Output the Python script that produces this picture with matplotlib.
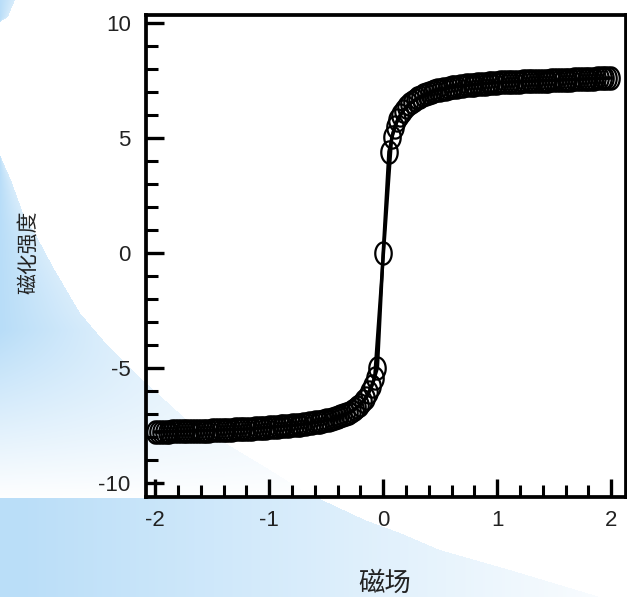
import numpy as np
import matplotlib
matplotlib.use('Agg')
import matplotlib.pyplot as plt
from matplotlib.path import Path
from matplotlib.ticker import MultipleLocator, FixedLocator

# ---------------- data ----------------
# sweep 1
field_h = [-2.00, -1.95, -1.90, -1.85, -1.80, -1.75, -1.70, -1.65, -1.60, -1.55,
           -1.50, -1.45, -1.40, -1.35, -1.30, -1.25, -1.20, -1.15, -1.10, -1.05,
           -1.00, -0.95, -0.90, -0.85, -0.80, -0.75, -0.70, -0.65, -0.60, -0.55,
           -0.50, -0.45, -0.40, -0.35, -0.30, -0.25, -0.20, -0.15, -0.10, -0.05,
           0.00,
           0.05, 0.10, 0.15, 0.20, 0.25, 0.30, 0.35, 0.40, 0.45, 0.50,
           0.55, 0.60, 0.65, 0.70, 0.75, 0.80, 0.85, 0.90, 0.95, 1.00,
           1.05, 1.10, 1.15, 1.20, 1.25, 1.30, 1.35, 1.40, 1.45, 1.50,
           1.55, 1.60, 1.65, 1.70, 1.75, 1.80, 1.85, 1.90, 1.95, 2.00]
magnetization = [-7.78, -7.77, -7.77, -7.76, -7.75, -7.75, -7.74, -7.73, -7.72, -7.72,
                 -7.71, -7.70, -7.69, -7.68, -7.67, -7.66, -7.65, -7.64, -7.62, -7.60,
                 -7.58, -7.56, -7.54, -7.52, -7.50, -7.47, -7.44, -7.41, -7.37, -7.33,
                 -7.28, -7.22, -7.15, -7.05, -6.95, -6.80, -6.60, -6.30, -5.80, -5.00,
                 0.00,
                 4.40, 5.50, 6.00, 6.35, 6.55, 6.72, 6.85, 6.95, 7.03, 7.10,
                 7.15, 7.20, 7.24, 7.27, 7.30, 7.32, 7.35, 7.37, 7.39, 7.41,
                 7.42, 7.43, 7.44, 7.45, 7.46, 7.47, 7.48, 7.49, 7.50, 7.51,
                 7.52, 7.53, 7.54, 7.55, 7.56, 7.57, 7.58, 7.59, 7.60, 7.61]

# sweep 2 (interleaved measurement points)
field_h_2 = [-1.975, -1.925, -1.875, -1.825, -1.775, -1.725, -1.675, -1.625, -1.575, -1.525,
             -1.475, -1.425, -1.375, -1.325, -1.275, -1.225, -1.175, -1.125, -1.075, -1.025,
             -0.975, -0.925, -0.875, -0.825, -0.775, -0.725, -0.675, -0.625, -0.575, -0.525,
             -0.475, -0.425, -0.375, -0.325, -0.275, -0.225, -0.175, -0.125, -0.075,
             0.075, 0.125, 0.175, 0.225, 0.275, 0.325, 0.375, 0.425, 0.475, 0.525,
             0.575, 0.625, 0.675, 0.725, 0.775, 0.825, 0.875, 0.925, 0.975, 1.025,
             1.075, 1.125, 1.175, 1.225, 1.275, 1.325, 1.375, 1.425, 1.475, 1.525,
             1.575, 1.625, 1.675, 1.725, 1.775, 1.825, 1.875, 1.925, 1.975]
magnetization_2 = [-7.79, -7.78, -7.77, -7.76, -7.76, -7.75, -7.74, -7.73, -7.73, -7.72,
                   -7.71, -7.70, -7.69, -7.68, -7.67, -7.66, -7.65, -7.63, -7.61, -7.59,
                   -7.57, -7.55, -7.53, -7.51, -7.49, -7.46, -7.43, -7.39, -7.35, -7.31,
                   -7.25, -7.19, -7.10, -7.00, -6.88, -6.70, -6.45, -6.05, -5.45,
                   5.05, 5.78, 6.18, 6.46, 6.64, 6.79, 6.90, 6.99, 7.07, 7.13,
                   7.18, 7.22, 7.26, 7.29, 7.31, 7.34, 7.36, 7.38, 7.40, 7.42,
                   7.43, 7.44, 7.45, 7.46, 7.47, 7.48, 7.49, 7.50, 7.51, 7.52,
                   7.53, 7.54, 7.55, 7.56, 7.57, 7.58, 7.59, 7.60, 7.61]

x_ticks = [-2, -1, 0, 1, 2]
x_tick_labels = ['-2', '-1', '0', '1', '2']
y_ticks = [-10, -5, 0, 5, 10]
y_tick_labels = ['-10', '-5', '0', '5', '10']
x_label = '磁场'
y_label = '磁化强度'

# ---------------- figure ----------------
W, H = 627, 597
fig = plt.figure(figsize=(W / 100, H / 100), dpi=100)
fig.patch.set_facecolor('white')

# background (slide-like blue gradient with white arc)
yy, xx = np.mgrid[0:H, 0:W] + 0.5
by = [0, 17, 22, 60, 100, 140, 155, 180, 213, 237, 267, 313, 340, 382, 420, 470, 493, 520, 533, 550, 570, 597]
bx = [15, 8, 0, -5, -8, -3, 0, 11, 23, 37, 53, 80, 103, 145, 187, 270, 307, 365, 400, 440, 510, 600]
xb = np.interp(yy, by, bx)
inside = xx < xb
band = yy >= 498
f_band = np.clip(xx / 660.0, 0.03, 1.0)
f_v = np.clip((yy - 330) / 170.0, 0, 1)
f_h = 0.45 * xx / np.maximum(xb, 1)
f_up = 1 - (1 - f_v) * (1 - f_h)
f = np.where(inside, np.where(band, f_band, f_up), 1.0)
blue = np.array([184, 221, 248]) / 255.0
img = blue[None, None, :] * (1 - f)[..., None] + f[..., None]
bg = fig.add_axes([0, 0, 1, 1], zorder=0)
bg.imshow(img, extent=[0, W, H, 0], aspect='auto', interpolation='bilinear')
bg.set_xlim(0, W)
bg.set_ylim(H, 0)
bg.axis('off')

ax = fig.add_axes([146 / W, 1 - 497 / H, 480 / W, 482 / H], zorder=1)
ax.set_facecolor('none')

theta = np.linspace(0, 2 * np.pi, 61)
ell = Path(np.column_stack([0.74 * np.cos(theta), np.sin(theta)]), closed=True)

style = dict(color='black', lw=2.4, marker=ell, markersize=16, markerfacecolor='none',
             markeredgecolor='black', markeredgewidth=1.6)
ax.plot(field_h, magnetization, **style)
ax.plot(field_h_2, magnetization_2, **style)

ax.set_xlim(-2.08, 2.13)
ax.set_ylim(-10.61, 10.35)

ax.xaxis.set_major_locator(FixedLocator(x_ticks))
ax.set_xticklabels(x_tick_labels)
ax.yaxis.set_major_locator(FixedLocator(y_ticks))
ax.set_yticklabels(y_tick_labels)
ax.xaxis.set_minor_locator(MultipleLocator(0.2))
ax.yaxis.set_minor_locator(MultipleLocator(1))

for s in ax.spines.values():
    s.set_linewidth(2.7)
    s.set_color('black')

tick_font = ['Liberation Sans Narrow', 'Liberation Sans', 'DejaVu Sans']
ax.tick_params(which='major', direction='in', length=13, width=2.4,
               top=False, right=False, labelsize=16, colors='black', labelcolor='#222222')
ax.tick_params(which='minor', direction='in', length=8.5, width=2.2,
               top=False, right=False)
ax.tick_params(axis='y', which='major', pad=11)
ax.tick_params(axis='x', which='major', pad=9)
for lab in ax.get_xticklabels() + ax.get_yticklabels():
    lab.set_family(tick_font)

cjk = ['Noto Sans CJK SC', 'DejaVu Sans']
fig.text(385 / W, 1 - 570 / H, x_label, ha='center', va='top',
         fontsize=19, family=cjk, color='#222222')
fig.text(28 / W, 1 - 252 / H, y_label, ha='center', va='center', rotation=90,
         fontsize=15, family=cjk, color='#222222')

fig.savefig('out.png', dpi=100)
